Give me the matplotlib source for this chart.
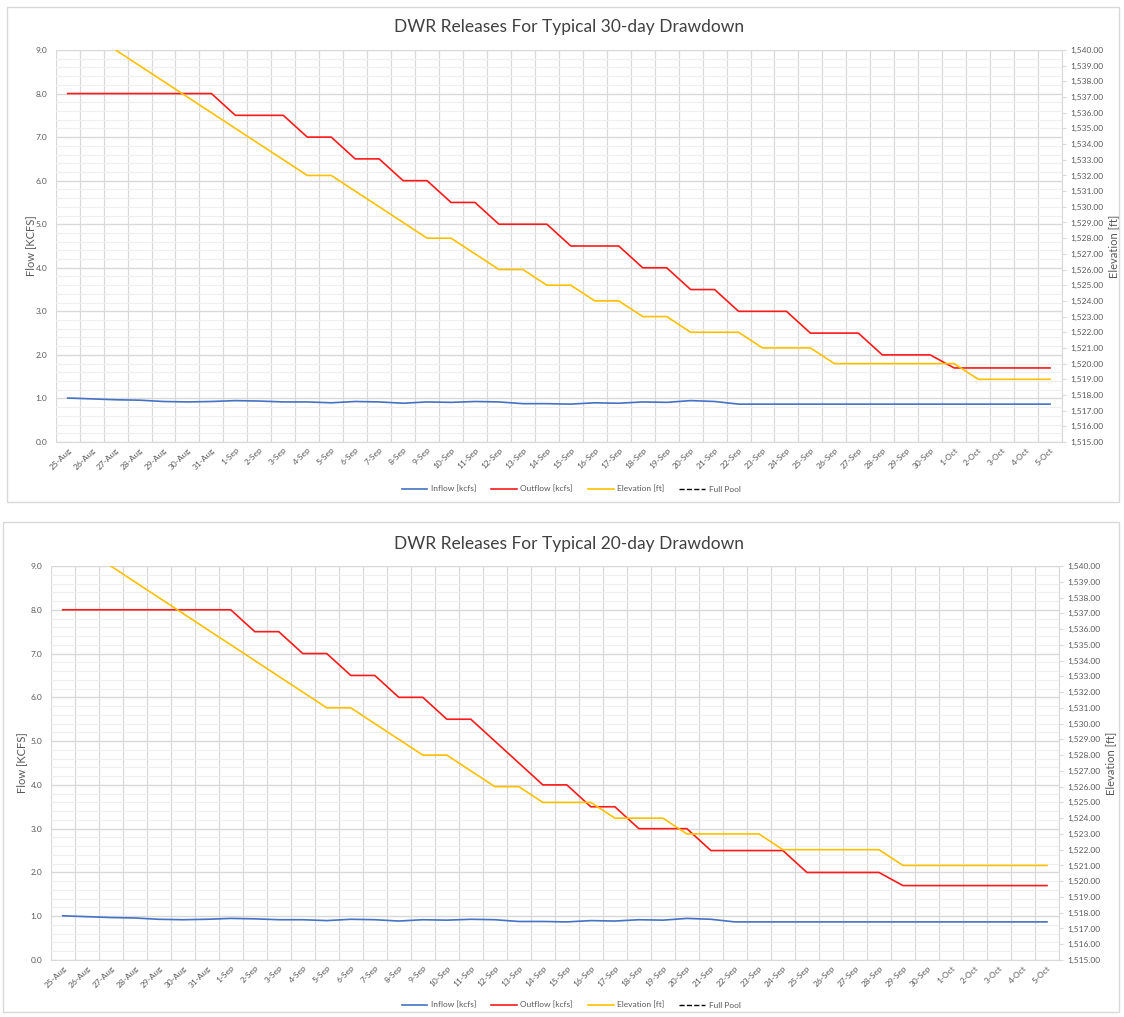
import numpy as np
import matplotlib
matplotlib.use("Agg")
import matplotlib.pyplot as plt
from matplotlib.lines import Line2D
from matplotlib.patches import Rectangle
from matplotlib.ticker import FuncFormatter, MultipleLocator

plt.rcParams['font.family'] = ['Lato', 'DejaVu Sans']

dates = ["25-Aug", "26-Aug", "27-Aug", "28-Aug", "29-Aug", "30-Aug", "31-Aug",
         "1-Sep", "2-Sep", "3-Sep", "4-Sep", "5-Sep", "6-Sep", "7-Sep", "8-Sep",
         "9-Sep", "10-Sep", "11-Sep", "12-Sep", "13-Sep", "14-Sep", "15-Sep",
         "16-Sep", "17-Sep", "18-Sep", "19-Sep", "20-Sep", "21-Sep", "22-Sep",
         "23-Sep", "24-Sep", "25-Sep", "26-Sep", "27-Sep", "28-Sep", "29-Sep",
         "30-Sep", "1-Oct", "2-Oct", "3-Oct", "4-Oct", "5-Oct"]

inflow = [1.01, 0.99, 0.97, 0.96, 0.93, 0.92, 0.93, 0.95, 0.94, 0.92, 0.92,
          0.90, 0.93, 0.92, 0.89, 0.92, 0.91, 0.93, 0.92, 0.88, 0.88, 0.87,
          0.90, 0.89, 0.92, 0.91, 0.95, 0.93, 0.87, 0.87, 0.87, 0.87, 0.87,
          0.87, 0.87, 0.87, 0.87, 0.87, 0.87, 0.87, 0.87, 0.87]

outflow_30 = [8.0, 8.0, 8.0, 8.0, 8.0, 8.0, 8.0, 7.5, 7.5, 7.5, 7.0, 7.0, 6.5,
              6.5, 6.0, 6.0, 5.5, 5.5, 5.0, 5.0, 5.0, 4.5, 4.5, 4.5, 4.0, 4.0,
              3.5, 3.5, 3.0, 3.0, 3.0, 2.5, 2.5, 2.5, 2.0, 2.0, 2.0, 1.7, 1.7,
              1.7, 1.7, 1.7]

elev_30 = [1542, 1541, 1540, 1539, 1538, 1537, 1536, 1535, 1534, 1533, 1532,
           1532, 1531, 1530, 1529, 1528, 1528, 1527, 1526, 1526, 1525, 1525,
           1524, 1524, 1523, 1523, 1522, 1522, 1522, 1521, 1521, 1521, 1520,
           1520, 1520, 1520, 1520, 1520, 1519, 1519, 1519, 1519]

outflow_20 = [8.0, 8.0, 8.0, 8.0, 8.0, 8.0, 8.0, 8.0, 7.5, 7.5, 7.0, 7.0, 6.5,
              6.5, 6.0, 6.0, 5.5, 5.5, 5.0, 4.5, 4.0, 4.0, 3.5, 3.5, 3.0, 3.0,
              3.0, 2.5, 2.5, 2.5, 2.5, 2.0, 2.0, 2.0, 2.0, 1.7, 1.7, 1.7, 1.7,
              1.7, 1.7, 1.7]

elev_20 = [1542, 1541, 1540, 1539, 1538, 1537, 1536, 1535, 1534, 1533, 1532,
           1531, 1531, 1530, 1529, 1528, 1528, 1527, 1526, 1526, 1525, 1525,
           1525, 1524, 1524, 1524, 1523, 1523, 1523, 1523, 1522, 1522, 1522,
           1522, 1522, 1521, 1521, 1521, 1521, 1521, 1521, 1521]

titles = ["DWR Releases For Typical 30-day Drawdown",
          "DWR Releases For Typical 20-day Drawdown"]
legend_labels = ["Inflow [kcfs]", "Outflow [kcfs]", "Elevation [ft]", "Full Pool"]

C_IN = "#4472C4"
C_OUT = "#FF1A1A"
C_EL = "#FFC000"
GRID = "#d9d9d9"
MINOR = "#efefef"
TXT = "#595959"

W, H = 1124, 1017
fig = plt.figure(figsize=(W / 100, H / 100), dpi=100)


def rect(l, t, r, b):
    return [l / W, 1 - b / H, (r - l) / W, (b - t) / H]


def chart(axrect, boxrect, title, outflow, elev, title_y, legend_y, ylab_x, rlab_x):
    l, t, r, b = boxrect
    fig.patches.append(Rectangle((l / W, 1 - b / H), (r - l) / W, (b - t) / H,
                                 transform=fig.transFigure, fill=False,
                                 edgecolor="#d9d9d9", linewidth=1.0))
    ax = fig.add_axes(rect(*axrect))
    x = np.arange(len(dates))
    ax.set_xlim(-0.5, len(dates) - 0.5)
    ax.set_ylim(0, 9)
    ax.yaxis.set_major_locator(MultipleLocator(1.0))
    ax.yaxis.set_minor_locator(MultipleLocator(0.2))
    ax.set_xticks(x)
    ax.set_xticks(np.arange(-0.5, len(dates), 1.0), minor=True)
    ax.set_xticklabels(dates, rotation=45, ha="right", rotation_mode="anchor",
                       fontsize=6, color=TXT)
    ax.yaxis.set_major_formatter(FuncFormatter(lambda v, p: f"{v:.1f}"))
    ax.tick_params(axis="y", which="both", length=0, labelsize=6,
                   labelcolor=TXT, pad=6)
    ax.tick_params(axis="x", which="both", length=0, pad=3)
    ax.grid(which="minor", axis="x", color=GRID, linewidth=0.9)
    ax.grid(which="major", axis="x", visible=False)
    ax.grid(which="major", axis="y", color=GRID, linewidth=1.0)
    ax.grid(which="minor", axis="y", color=MINOR, linewidth=0.8)
    ax.set_axisbelow(True)
    for s in ["top", "right", "left"]:
        ax.spines[s].set_visible(False)
    ax.spines["bottom"].set_color(GRID)
    ax.plot(x, inflow, color=C_IN, linewidth=1.2)
    ax.plot(x, outflow, color=C_OUT, linewidth=1.2)
    ax.set_ylabel("Flow [KCFS]", fontsize=8, color=TXT)
    ax.yaxis.set_label_coords(ylab_x, 0.5)

    ax2 = ax.twinx()
    ax2.set_ylim(1515, 1540)
    ax2.yaxis.set_major_locator(MultipleLocator(1.0))
    ax2.yaxis.set_major_formatter(FuncFormatter(lambda v, p: f"{v:,.2f}"))
    ax2.tick_params(axis="y", length=3, color=GRID, labelsize=6,
                    labelcolor=TXT, pad=3)
    for s in ["top", "left", "bottom"]:
        ax2.spines[s].set_visible(False)
    ax2.spines["right"].set_color(GRID)
    ax2.plot(x, elev, color=C_EL, linewidth=1.2)
    ax2.set_ylabel("Elevation [ft]", fontsize=8, color=TXT)
    ax2.yaxis.set_label_coords(rlab_x, 0.5)

    fig.text(569 / W, 1 - title_y / H, title, ha="center", va="center",
             fontsize=12.5, color="#404040")
    handles = [Line2D([], [], color=C_IN, linewidth=1.2),
               Line2D([], [], color=C_OUT, linewidth=1.2),
               Line2D([], [], color=C_EL, linewidth=1.2),
               Line2D([], [], color="black", linewidth=1.0, linestyle="--")]
    fig.legend(handles, legend_labels, loc="center",
               bbox_to_anchor=(571 / W, 1 - legend_y / H), ncol=4,
               frameon=False, fontsize=6, labelcolor=TXT, handlelength=3.1,
               columnspacing=1.8, handletextpad=0.4)


chart((55.7, 50, 1062, 442), (7, 7, 1119, 502), titles[0], outflow_30, elev_30,
      27, 489, -0.0196, 1.046)
chart((50.7, 566, 1059, 960), (3, 522, 1119, 1012), titles[1], outflow_20, elev_20,
      544, 1005, -0.0235, 1.046)

fig.savefig("out.png", dpi=100)
